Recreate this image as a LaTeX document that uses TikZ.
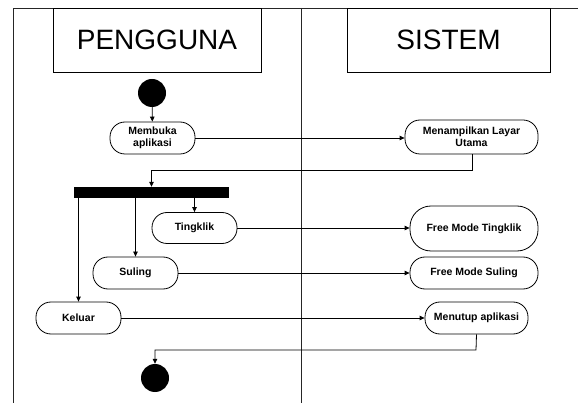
\documentclass[tikz,border=0pt]{standalone}
\usepackage{fontspec}
\setmainfont{Liberation Sans}
\usetikzlibrary{arrows.meta}
\begin{document}
\begin{tikzpicture}[x=1pt,y=-1pt,
  act/.style={draw,line width=0.8pt,rounded corners=15pt,align=center,inner sep=0pt,
    font=\bfseries\fontsize{10.5}{12}\selectfont},
  lane/.style={draw,line width=0.8pt,inner sep=0pt,font=\fontsize{28}{30}\selectfont},
  flow/.style={line width=0.8pt,-{Triangle[length=5pt,width=4.5pt]}},
  dot/.style={circle,fill=black,inner sep=0pt,minimum size=28pt}]
\useasboundingbox (0,0) rectangle (578,403);
% frame
\draw[line width=0.8pt,black!85] (13,403) -- (13,8) -- (578,8);
\draw[line width=0.8pt,black!85] (301,8) -- (301,403);
\node[lane,minimum width=208pt,minimum height=64pt] (pengguna) at (157,40) {PENGGUNA};
\node[lane,minimum width=203pt,minimum height=64pt] (sistem) at (448.5,40) {SISTEM};
% nodes
\node[dot] (start) at (152,93) {};
\node[act,minimum width=85pt,minimum height=32pt] (buka) at (152.5,138) {Membuka\\aplikasi};
\node[act,minimum width=133pt,minimum height=34pt] (layar) at (471.5,137) {Menampilkan Layar\\Utama};
\node[fill=black,minimum width=155pt,minimum height=11pt,inner sep=0pt] (bar) at (151.5,192.5) {};
\node[act,minimum width=85pt,minimum height=31pt] (tingklik) at (194.5,228) {Tingklik};
\node[act,minimum width=85pt,minimum height=32pt] (suling) at (135.5,273) {Suling};
\node[act,minimum width=85pt,minimum height=32pt] (keluar) at (78.5,318) {Keluar};
\node[act,rounded corners=21pt,minimum width=128pt,minimum height=45pt] (fmt) at (474,228.5) {Free Mode Tingklik};
\node[act,minimum width=128pt,minimum height=32pt] (fms) at (474,273) {Free Mode Suling};
\node[act,minimum width=103pt,minimum height=32pt] (tutup) at (476.5,318) {Menutup aplikasi};
\node[dot] (end) at (155,378) {};
% connectors
\draw[flow] (start) -- (buka);
\draw[flow] (buka.east) -- (buka.east -| layar.west);
\coordinate (c1) at (472,170);
\draw[flow] (layar.south -| c1) -- (c1) -| (bar.north);
\draw[flow] (bar.south -| tingklik.north) -- (tingklik.north);
\draw[flow] (bar.south -| suling.north) -- (suling.north);
\draw[flow] (bar.south -| keluar.north) -- (keluar.north);
\draw[flow] (tingklik.east) -- (tingklik.east -| fmt.west);
\draw[flow] (suling.east) -- (suling.east -| fms.west);
\draw[flow] (keluar.east) -- (keluar.east -| tutup.west);
\coordinate (c2) at (476,350);
\draw[flow] (tutup.south) -- (c2) -| (end.north);
\end{tikzpicture}
\end{document}
